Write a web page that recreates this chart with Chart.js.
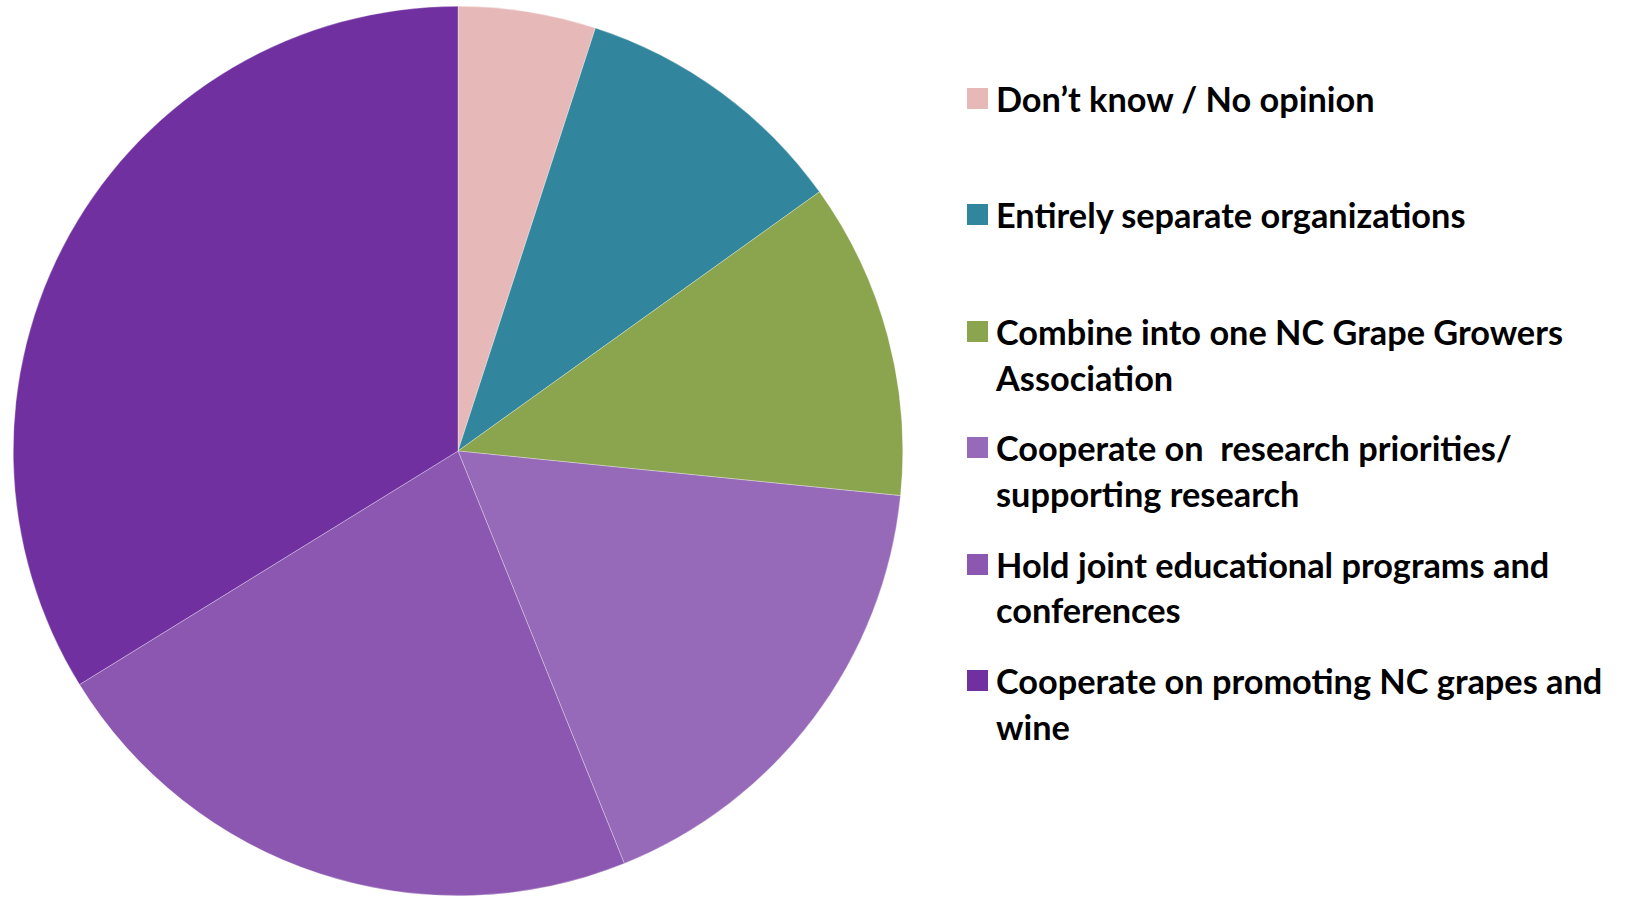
<!DOCTYPE html>
<html>
<head>
<meta charset="utf-8">
<script src="https://cdn.jsdelivr.net/npm/chart.js@4.4.1/dist/chart.umd.min.js"></script>
<style>
  html, body { margin: 0; padding: 0; background: #fff; }
  body { width: 1630px; height: 900px; position: relative; overflow: hidden; }
  #pieBox { position: absolute; left: 13px; top: 6px; width: 890px; height: 890px; }
  #legend { position: absolute; left: 967px; top: 0; font-family: Lato, "Open Sans", sans-serif; font-weight: 700; color: #000; }
  .item { position: absolute; left: 0; width: 660px; }
  .swatch { position: absolute; left: 0; width: 21px; height: 21px; }
  .text { position: absolute; left: 29px; font-size: 34.3px; line-height: 45.7px; white-space: pre; }
</style>
</head>
<body>
<div id="pieBox"><canvas id="pie"></canvas></div>
<div id="legend"></div>
<script>
// Survey: how should the two NC grape/wine associations work together?

const labels = [
  'Don\u2019t know / No opinion',
  'Entirely separate organizations',
  'Combine into one NC Grape Growers Association',
  'Cooperate on  research priorities/ supporting research',
  'Hold joint educational programs and conferences',
  'Cooperate on promoting NC grapes and wine',
];
// legend text split the way the original wraps it
const legendLines = [
  ['Don\u2019t know / No opinion'],
  ['Entirely separate organizations'],
  ['Combine into one NC Grape Growers', 'Association'],
  ['Cooperate on  research priorities/', 'supporting research'],
  ['Hold joint educational programs and', 'conferences'],
  ['Cooperate on promoting NC grapes and', 'wine'],
];
const shares = [5.0, 10.1, 11.5, 17.3, 22.3, 33.8];
const colors = ['#E6B9B8', '#31859C', '#8AA54E', '#966AB8', '#8B57B0', '#7030A0'];

new Chart(document.getElementById('pie'), {
  type: 'pie',
  data: {
    labels: labels,
    datasets: [{
      data: shares,
      backgroundColor: colors,
      borderColor: 'rgba(255,255,255,0.6)',
      borderWidth: 0.5,
    }],
  },
  options: {
    responsive: true,
    maintainAspectRatio: false,
    animation: false,
    layout: { padding: 0 },
    plugins: {
      legend: { display: false },
      tooltip: { enabled: false },
    },
  },
});

// html legend, one row every 116.4px
const legend = document.getElementById('legend');
const rowTop = 76;
const rowStep = 116.4;
legendLines.forEach((lines, i) => {
  const item = document.createElement('div');
  item.className = 'item';
  item.style.top = (rowTop + i * rowStep) + 'px';
  const sw = document.createElement('div');
  sw.className = 'swatch';
  sw.style.background = colors[i];
  sw.style.top = '12px';
  const tx = document.createElement('div');
  tx.className = 'text';
  tx.textContent = lines.join('\n');
  item.appendChild(sw);
  item.appendChild(tx);
  legend.appendChild(item);
});
</script>
</body>
</html>
